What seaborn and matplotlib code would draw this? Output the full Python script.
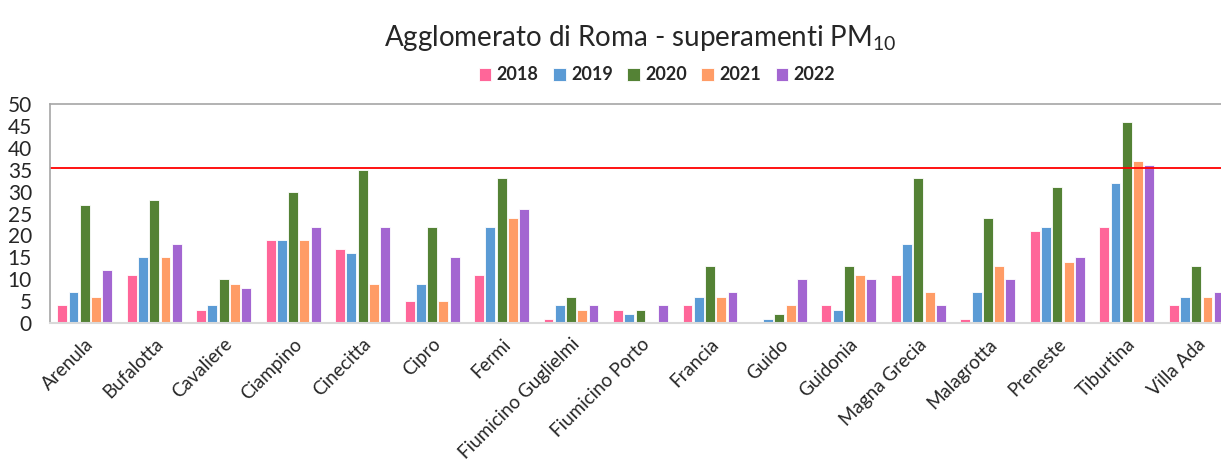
import pandas as pd
import matplotlib.pyplot as plt
import seaborn as sns

# station names and yearly exceedance counts
stations = ['Arenula', 'Bufalotta', 'Cavaliere', 'Ciampino', 'Cinecitta', 'Cipro', 'Fermi',
            'Fiumicino Guglielmi', 'Fiumicino Porto', 'Francia', 'Guido', 'Guidonia',
            'Magna Grecia', 'Malagrotta', 'Preneste', 'Tiburtina', 'Villa Ada']
years = ['2018', '2019', '2020', '2021', '2022']
v2018 = [4, 11, 3, 19, 17, 5, 11, 1, 3, 4, 0, 4, 11, 1, 21, 22, 4]
v2019 = [7, 15, 4, 19, 16, 9, 22, 4, 2, 6, 1, 3, 18, 7, 22, 32, 6]
v2020 = [27, 28, 10, 30, 35, 22, 33, 6, 3, 13, 2, 13, 33, 24, 31, 46, 13]
v2021 = [6, 15, 9, 19, 9, 5, 24, 3, 0, 6, 4, 11, 7, 13, 14, 37, 6]
v2022 = [12, 18, 8, 22, 22, 15, 26, 4, 4, 7, 10, 10, 4, 10, 15, 36, 7]
limit = 35.4

colors = ['#FF6699', '#5B9BD5', '#548235', '#FF9C66', '#A366D1']

rows = []
for y, vals in zip(years, [v2018, v2019, v2020, v2021, v2022]):
    for s, v in zip(stations, vals):
        rows.append({'station': s, 'year': y, 'value': v})
df = pd.DataFrame(rows)

sns.set_style('white')
plt.rcParams['font.family'] = ['Lato', 'DejaVu Sans']
plt.rcParams['mathtext.fontset'] = 'custom'
plt.rcParams['mathtext.rm'] = 'Lato'

fig = plt.figure(figsize=(12.21, 4.68), dpi=100)
ax = fig.add_axes([50 / 1221, 145 / 468, 1181 / 1221, 219 / 468])

sns.barplot(data=df, x='station', y='value', hue='year', palette=colors,
            saturation=1, width=0.81, gap=0.12, edgecolor='white', linewidth=0.6,
            ax=ax, legend=True)

ax.axhline(limit, color='#FF0000', lw=1.3)

ax.set_ylim(0, 50)
ax.set_yticks(range(0, 51, 5))
ax.set_xlim(-0.5, len(stations) - 0.5)
ax.set_xlabel('')
ax.set_ylabel('')
ax.tick_params(axis='y', labelsize=15, length=0, pad=13)
ax.tick_params(axis='x', labelsize=13.5, length=0, pad=9)
plt.setp(ax.get_xticklabels(), rotation=45, ha='right', rotation_mode='anchor')

for side in ['top', 'left', 'right']:
    ax.spines[side].set_color('#A6A6A6')
    ax.spines[side].set_linewidth(1.2)
ax.spines['bottom'].set_color('#D9D9D9')
ax.spines['bottom'].set_linewidth(1.5)

leg = ax.legend(loc='center', bbox_to_anchor=(657 / 1221, 1 - 75 / 468),
                bbox_transform=fig.transFigure, ncol=5, frameon=False,
                handlelength=0.7, handleheight=0.7, handletextpad=0.3,
                columnspacing=0.8, prop={'size': 13, 'weight': 'bold'})

fig.text(640 / 1221, 1 - 38 / 468, 'Agglomerato di Roma - superamenti PM$_{10}$',
         ha='center', va='center', fontsize=20)

fig.savefig('out.png', dpi=100)
